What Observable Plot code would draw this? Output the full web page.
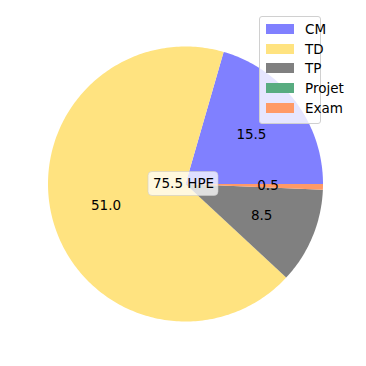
<!DOCTYPE html>
<html><head><meta charset="utf-8">
<script src="https://cdn.jsdelivr.net/npm/d3@7"></script>
<script src="https://cdn.jsdelivr.net/npm/@observablehq/plot@0.6"></script>
<style>
body{margin:0;background:#fff;font-family:"DejaVu Sans",sans-serif;}
#wrap{position:relative;width:366px;height:366px;}
#legend{position:absolute;left:259px;top:16px;width:62px;height:108px;box-sizing:border-box;border:1px solid #d0d0d0;border-radius:3px;background:rgba(255,255,255,0.8);font-size:13.5px;color:#000;}
.item{position:absolute;left:6px;height:14px;display:flex;align-items:center;}
.sw{width:28px;height:10px;margin-right:11px;}
</style></head>
<body><div id="wrap"><div id="legend"></div></div>
<script>
const categories = ["CM", "TD", "TP", "Projet", "Exam"];
const values = [15.5, 51.0, 8.5, 0, 0.5];
const colors = ["#8080ff", "#ffe380", "#808080", "#58ac80", "#ff9a66"];
const centerLabel = "75.5 HPE";

const total = d3.sum(values);
let acc = 0;
const slices = categories.map((c, i) => {
  const a0 = acc / total * 2 * Math.PI;
  acc += values[i];
  const a1 = acc / total * 2 * Math.PI;
  return {key: c, value: values[i], a0, a1, color: colors[i]};
});
const poly = [];
for (const s of slices) {
  if (s.value <= 0) continue;
  const n = Math.max(2, Math.ceil((s.a1 - s.a0) / (2 * Math.PI) * 360));
  poly.push({key: s.key, x: 0, y: 0});
  for (let k = 0; k <= n; k++) {
    const a = s.a0 + (s.a1 - s.a0) * k / n;
    poly.push({key: s.key, x: Math.cos(a), y: Math.sin(a)});
  }
  poly.push({key: s.key, x: 0, y: 0});
}
const labels = slices.filter(s => s.value > 0).map(s => {
  const m = (s.a0 + s.a1) / 2;
  return {x: 0.6 * Math.cos(m), y: 0.6 * Math.sin(m), text: s.value.toFixed(1)};
});

const R = 137.5;
const chart = Plot.plot({
  width: 366, height: 366,
  margin: 0,
  style: {fontFamily: "DejaVu Sans", fontSize: "13.5px", background: "white"},
  x: {domain: [-185 / R, 181 / R], axis: null},
  y: {domain: [-(366 - 183.5) / R, 183.5 / R], axis: null},
  color: {domain: categories, range: colors},
  marks: [
    Plot.line(poly, {x: "x", y: "y", z: "key", fill: "key", stroke: "none", curve: "linear"}),
    Plot.text(labels, {x: "x", y: "y", text: "text", fill: "black", fontSize: 13.5}),
    Plot.rect([{x1: -37 / R, x2: 33 / R, y1: -12 / R, y2: 12 / R}], {x1: "x1", x2: "x2", y1: "y1", y2: "y2", fill: "white", fillOpacity: 0.75, stroke: "#cccccc", strokeOpacity: 0.6, rx: 4, inset: 0}),
    Plot.text([{x: -2 / R, y: 0, t: centerLabel}], {x: "x", y: "y", text: "t", fill: "black", fontSize: 13.5})
  ]
});
const wrap = document.getElementById("wrap");
wrap.insertBefore(chart, wrap.firstChild);

const leg = document.getElementById("legend");
categories.forEach((c, i) => {
  const d = document.createElement("div");
  d.className = "item";
  d.style.top = (5 + i * 19.7) + "px";
  d.innerHTML = `<span class="sw" style="background:${colors[i]}"></span><span>${c}</span>`;
  leg.appendChild(d);
});
</script></body></html>
